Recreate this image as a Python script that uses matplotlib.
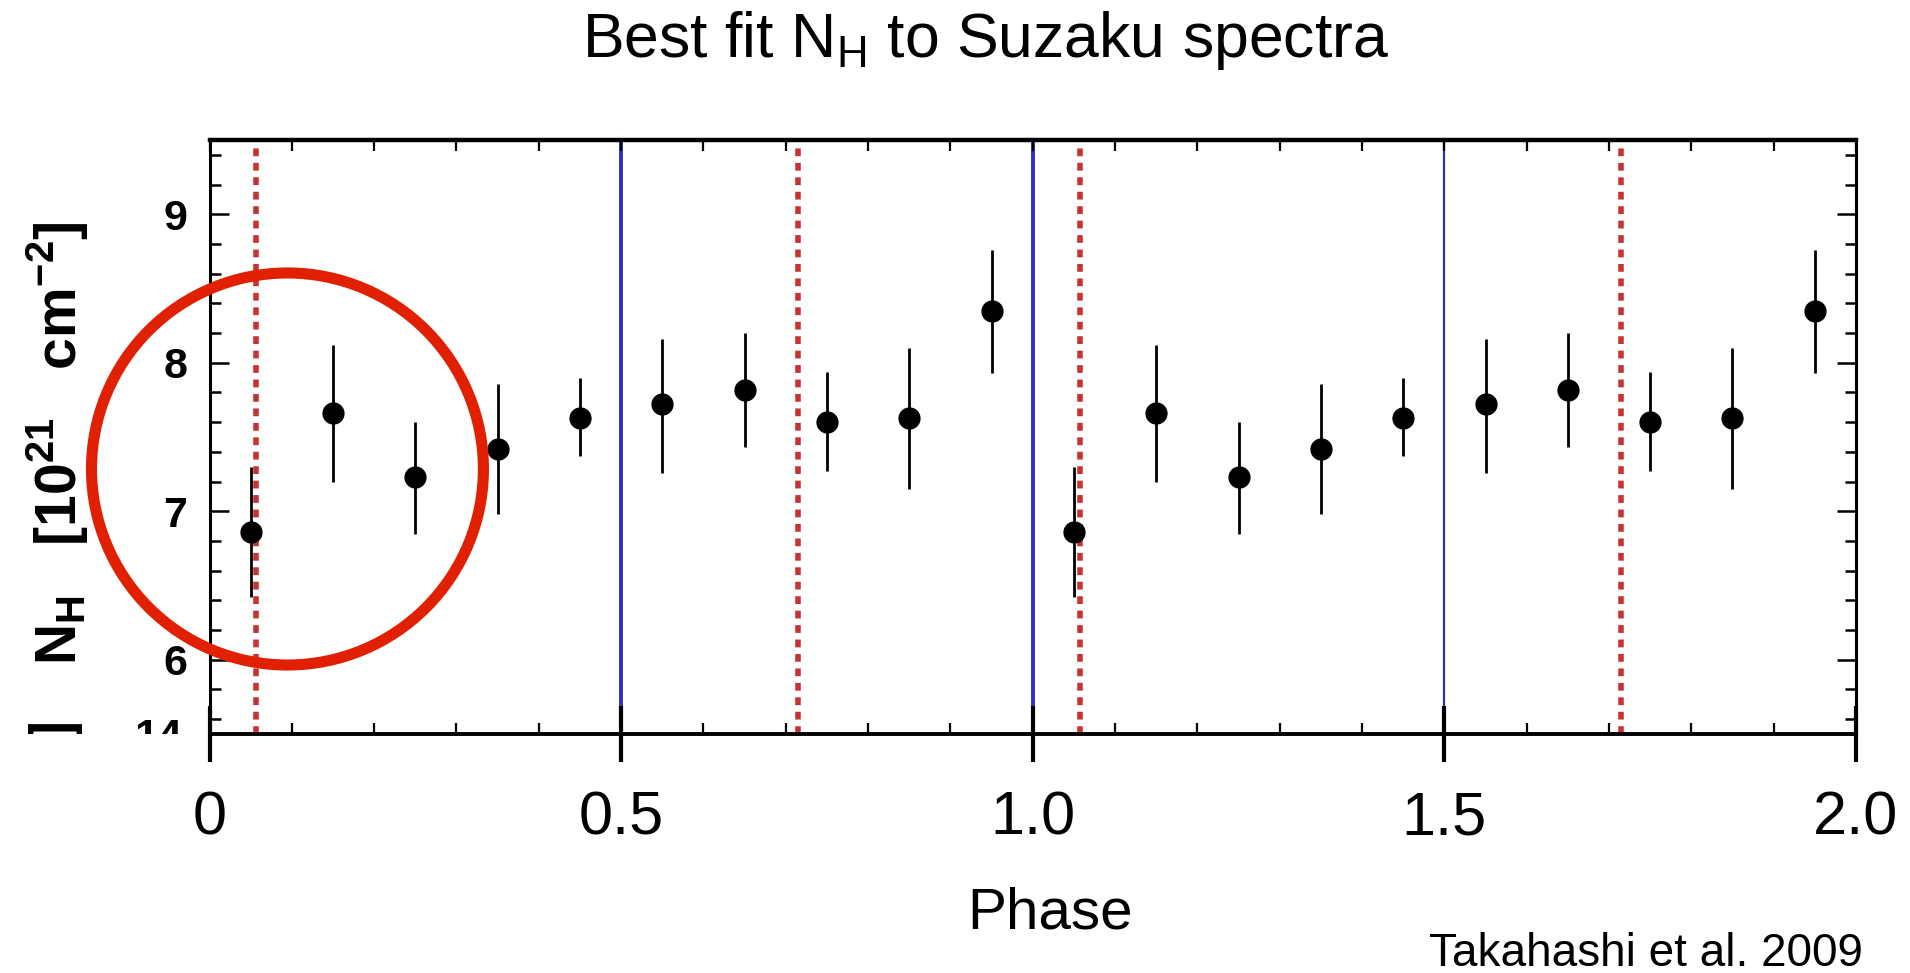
import numpy as np
import matplotlib
matplotlib.use('Agg')
import matplotlib.pyplot as plt
from matplotlib.patches import Ellipse
from matplotlib.ticker import MultipleLocator, FixedLocator
from matplotlib.transforms import Bbox, TransformedBbox

plt.rcParams['font.family'] = ['Liberation Sans', 'DejaVu Sans']
plt.rcParams['mathtext.fontset'] = 'custom'
plt.rcParams['mathtext.rm'] = 'Liberation Sans'
plt.rcParams['mathtext.bf'] = 'Liberation Sans:bold'

# Phase-binned N_H (one cycle, drawn for two cycles)
phase = [0.05, 0.15, 0.25, 0.35, 0.45, 0.55, 0.65, 0.75, 0.85, 0.95]
nh = [6.86, 7.66, 7.23, 7.42, 7.63, 7.72, 7.82, 7.60, 7.63, 8.35]
nh_hi = [7.30, 8.12, 7.60, 7.86, 7.90, 8.16, 8.20, 7.94, 8.10, 8.76]
nh_lo = [6.42, 7.20, 6.85, 6.98, 7.37, 7.26, 7.43, 7.27, 7.15, 7.93]
cycles = [0, 1]

# marker lines
blue_lines = [0.5, 1.0, 1.5]
red_lines = [0.057, 0.715, 1.057, 1.715]

xticks = [0, 0.5, 1.0, 1.5, 2.0]
xticklabels = ['0', '0.5', '1.0', '1.5', '2.0']
yticks = [6, 7, 8, 9]

fig = plt.figure(figsize=(19.1, 9.73), dpi=100)
fig.patch.set_facecolor('white')
ax = fig.add_axes([0.1097, 0.2456, 0.8620, 0.6105])

# vertical lines
for x, w in zip(blue_lines, [2.8, 2.8, 1.6]):
    ax.axvline(x, color='#3030c0', lw=w, zorder=1)
for x in red_lines:
    ax.axvline(x, color='#c83232', lw=4, dashes=(1.4, 1.2), zorder=1)

# data points with error bars
nh = np.array(nh)
yerr = [nh - np.array(nh_lo), np.array(nh_hi) - nh]
for c in cycles:
    xs = np.array(phase) + c
    ax.errorbar(xs, nh, yerr=yerr, fmt='o', color='black', ms=15,
                elinewidth=2.0, capsize=0, zorder=3)

ax.set_xlim(0, 2.0)
ax.set_ylim(5.5, 9.5)

# x axis: long in/out majors on bottom, small inward ticks every 0.1 top and bottom
ax.xaxis.set_major_locator(FixedLocator(xticks))
ax.set_xticklabels(xticklabels)
ax.xaxis.set_minor_locator(MultipleLocator(0.1))
ax.xaxis.remove_overlapping_locs = False
ax.tick_params(axis='x', which='major', direction='inout', length=41, width=3,
               top=False, bottom=True, labelsize=44, pad=20)
ax.tick_params(axis='x', which='minor', direction='in', length=8, width=1.6,
               top=True, bottom=True)

# y axis
ax.yaxis.set_major_locator(FixedLocator(yticks))
ax.yaxis.set_minor_locator(MultipleLocator(0.2))
ax.tick_params(axis='y', which='major', direction='in', length=14, width=1.8,
               left=True, right=True, labelsize=31, pad=16)
ax.tick_params(axis='y', which='minor', direction='in', length=8, width=1.8,
               left=True, right=True)
for lbl in ax.get_yticklabels():
    lbl.set_fontweight('bold')

for side, w in [('top', 3.2), ('left', 2.2), ('right', 2.2), ('bottom', 2.8)]:
    ax.spines[side].set_linewidth(w)
    ax.spines[side].set_color('black')

# texts
fig.text(0.3046, 0.941, r'Best fit N$_\mathregular{H}$ to Suzaku spectra',
         fontsize=45, ha='left', va='baseline')
fig.text(0.5497, 0.046, 'Phase', fontsize=42, ha='center', va='baseline')
fig.text(0.9754, 0.0072, 'Takahashi et al. 2009', fontsize=33,
         ha='right', va='baseline')
fig.text(0.0405, 0.545,
         r'N$_\mathregular{H}$   [10$^\mathregular{21}$   cm$^\mathregular{-2}$]',
         fontsize=41, fontweight='bold', rotation=90,
         rotation_mode='anchor', ha='center', va='baseline')

# cut-off pieces of the panel below
clip = TransformedBbox(Bbox([[0, 0.2456], [0.105, 1]]), fig.transFigure)
t1 = fig.text(0.029, 1 - 720 / 973, ']', fontsize=41, fontweight='bold',
              rotation=90, ha='center', va='top')
t2 = fig.text(0.0953, 1 - 718 / 973, '14', fontsize=31, fontweight='bold',
              ha='right', va='top')
for t in (t1, t2):
    t.set_clip_box(clip)
    t.set_clip_on(True)

# red highlight circle
fig.add_artist(Ellipse((0.1505, 0.518), 0.2052, 0.4029, fill=False,
                       edgecolor='#e02000', lw=8, transform=fig.transFigure,
                       zorder=10))

fig.savefig('out.png', dpi=100, facecolor='white')
